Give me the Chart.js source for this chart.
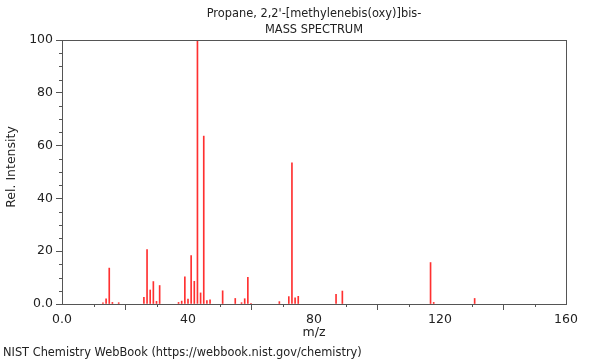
<!DOCTYPE html>
<html><head><meta charset="utf-8">
<script src="https://cdn.jsdelivr.net/npm/chart.js@4/dist/chart.umd.min.js"></script>
<style>html,body{margin:0;padding:0;background:#fff}canvas{display:block}</style>
</head><body>
<canvas id="c" width="600" height="360"></canvas>
<script>
const titleLines = ["Propane, 2,2'-[methylenebis(oxy)]bis-", "MASS SPECTRUM"];
const xLabel = "m/z";
const yLabel = "Rel. Intensity";
const footer = "NIST Chemistry WebBook (https://webbook.nist.gov/chemistry)";
const mz        = [13, 14, 15, 16, 18, 26, 27, 28, 29, 30, 31, 37, 38, 39, 40, 41, 42, 43, 44, 45, 46, 47, 51, 55, 57, 58, 59, 60, 69, 72, 73, 74, 75, 87, 89, 117, 118, 131];
const intensity = [0.4, 2.0, 13.6, 0.6, 0.5, 2.5, 20.6, 5.3, 8.5, 1.0, 7.0, 0.6, 1.1, 10.3, 1.9, 18.3, 8.6, 100, 4.2, 63.6, 1.3, 1.6, 5.0, 2.1, 0.5, 2.0, 10.1, 0.3, 0.9, 2.8, 53.5, 2.3, 2.9, 3.7, 4.9, 15.7, 0.6, 2.1];
const xMajorTicks = [0, 40, 80, 120, 160];
const xMinorTicks = [10, 20, 30, 50, 60, 70, 90, 100, 110, 130, 140, 150];
const yMajorTicks = [0, 20, 40, 60, 80, 100];
const yMinorTicks = [5, 10, 15, 25, 30, 35, 45, 50, 55, 65, 70, 75, 85, 90, 95];

const FONT = "'DejaVu Sans', sans-serif";
const AXIS = '#555';
const TEXT = '#222';

const decor = {
  id: 'decor',
  afterDraw(chart) {
    const ctx = chart.ctx, a = chart.chartArea;
    const xs = chart.scales.x, ys = chart.scales.y;
    ctx.save();
    ctx.strokeStyle = AXIS; ctx.lineWidth = 1;
    ctx.beginPath();
    ctx.moveTo(a.left, a.top + 0.5); ctx.lineTo(a.right + 0.5, a.top + 0.5);
    ctx.moveTo(a.right + 0.5, a.top); ctx.lineTo(a.right + 0.5, a.bottom);
    xMinorTicks.forEach(v => { const p = Math.round(xs.getPixelForValue(v)) + 0.5; ctx.moveTo(p, a.bottom); ctx.lineTo(p, a.bottom + 3); });
    yMinorTicks.forEach(v => { const p = Math.round(ys.getPixelForValue(v)) + 0.5; ctx.moveTo(a.left, p); ctx.lineTo(a.left - 3, p); });
    ctx.stroke();
    ctx.fillStyle = TEXT;
    ctx.font = '11.4px ' + FONT;
    ctx.textAlign = 'center'; ctx.textBaseline = 'middle';
    const cx = (a.left + a.right) / 2;
    ctx.fillText(titleLines[0], cx, 14);
    ctx.fillText(titleLines[1], cx, 30);
    ctx.font = '12.5px ' + FONT;
    ctx.fillText(xLabel, cx, 333);
    ctx.save();
    ctx.translate(12, 167); ctx.rotate(-Math.PI / 2);
    ctx.fillText(yLabel, 0, 0);
    ctx.restore();
    ctx.font = '11.4px ' + FONT;
    ctx.textAlign = 'left';
    ctx.fillText(footer, 3, 353);
    ctx.restore();
  }
};

new Chart(document.getElementById('c'), {
  type: 'bar',
  data: {
    datasets: [{
      data: mz.map((m, i) => ({ x: m, y: intensity[i] })),
      backgroundColor: '#ff3030',
      borderWidth: 0,
      barThickness: 1,
      grouped: false
    }]
  },
  options: {
    responsive: false,
    animation: false,
    devicePixelRatio: 1,
    layout: { padding: { top: 40, right: 34, left: 0, bottom: 0 } },
    plugins: { legend: { display: false }, tooltip: { enabled: false }, title: { display: false } },
    scales: {
      x: {
        type: 'linear', min: 0, max: 160, offset: false,
        afterFit(s) { s.height = 56; },
        afterBuildTicks(s) { s.ticks = xMajorTicks.map(v => ({ value: v })); },
        ticks: { callback: v => v === 0 ? '0.0' : String(v), font: { family: FONT, size: 12.5 }, color: TEXT, padding: 2, maxRotation: 0, autoSkip: false },
        grid: { display: true, drawOnChartArea: false, drawTicks: true, tickLength: 6, color: AXIS },
        border: { display: true, color: AXIS, width: 1 }
      },
      y: {
        type: 'linear', min: 0, max: 100,
        afterFit(s) { s.width = 62; },
        afterBuildTicks(s) { s.ticks = yMajorTicks.map(v => ({ value: v })); },
        ticks: { callback: v => v === 0 ? '0.0' : String(v), font: { family: FONT, size: 12.5 }, color: TEXT, padding: 3, autoSkip: false },
        grid: { display: true, drawOnChartArea: false, drawTicks: true, tickLength: 6, color: AXIS },
        border: { display: true, color: AXIS, width: 1 }
      }
    }
  },
  plugins: [decor]
});
</script>
</body></html>
